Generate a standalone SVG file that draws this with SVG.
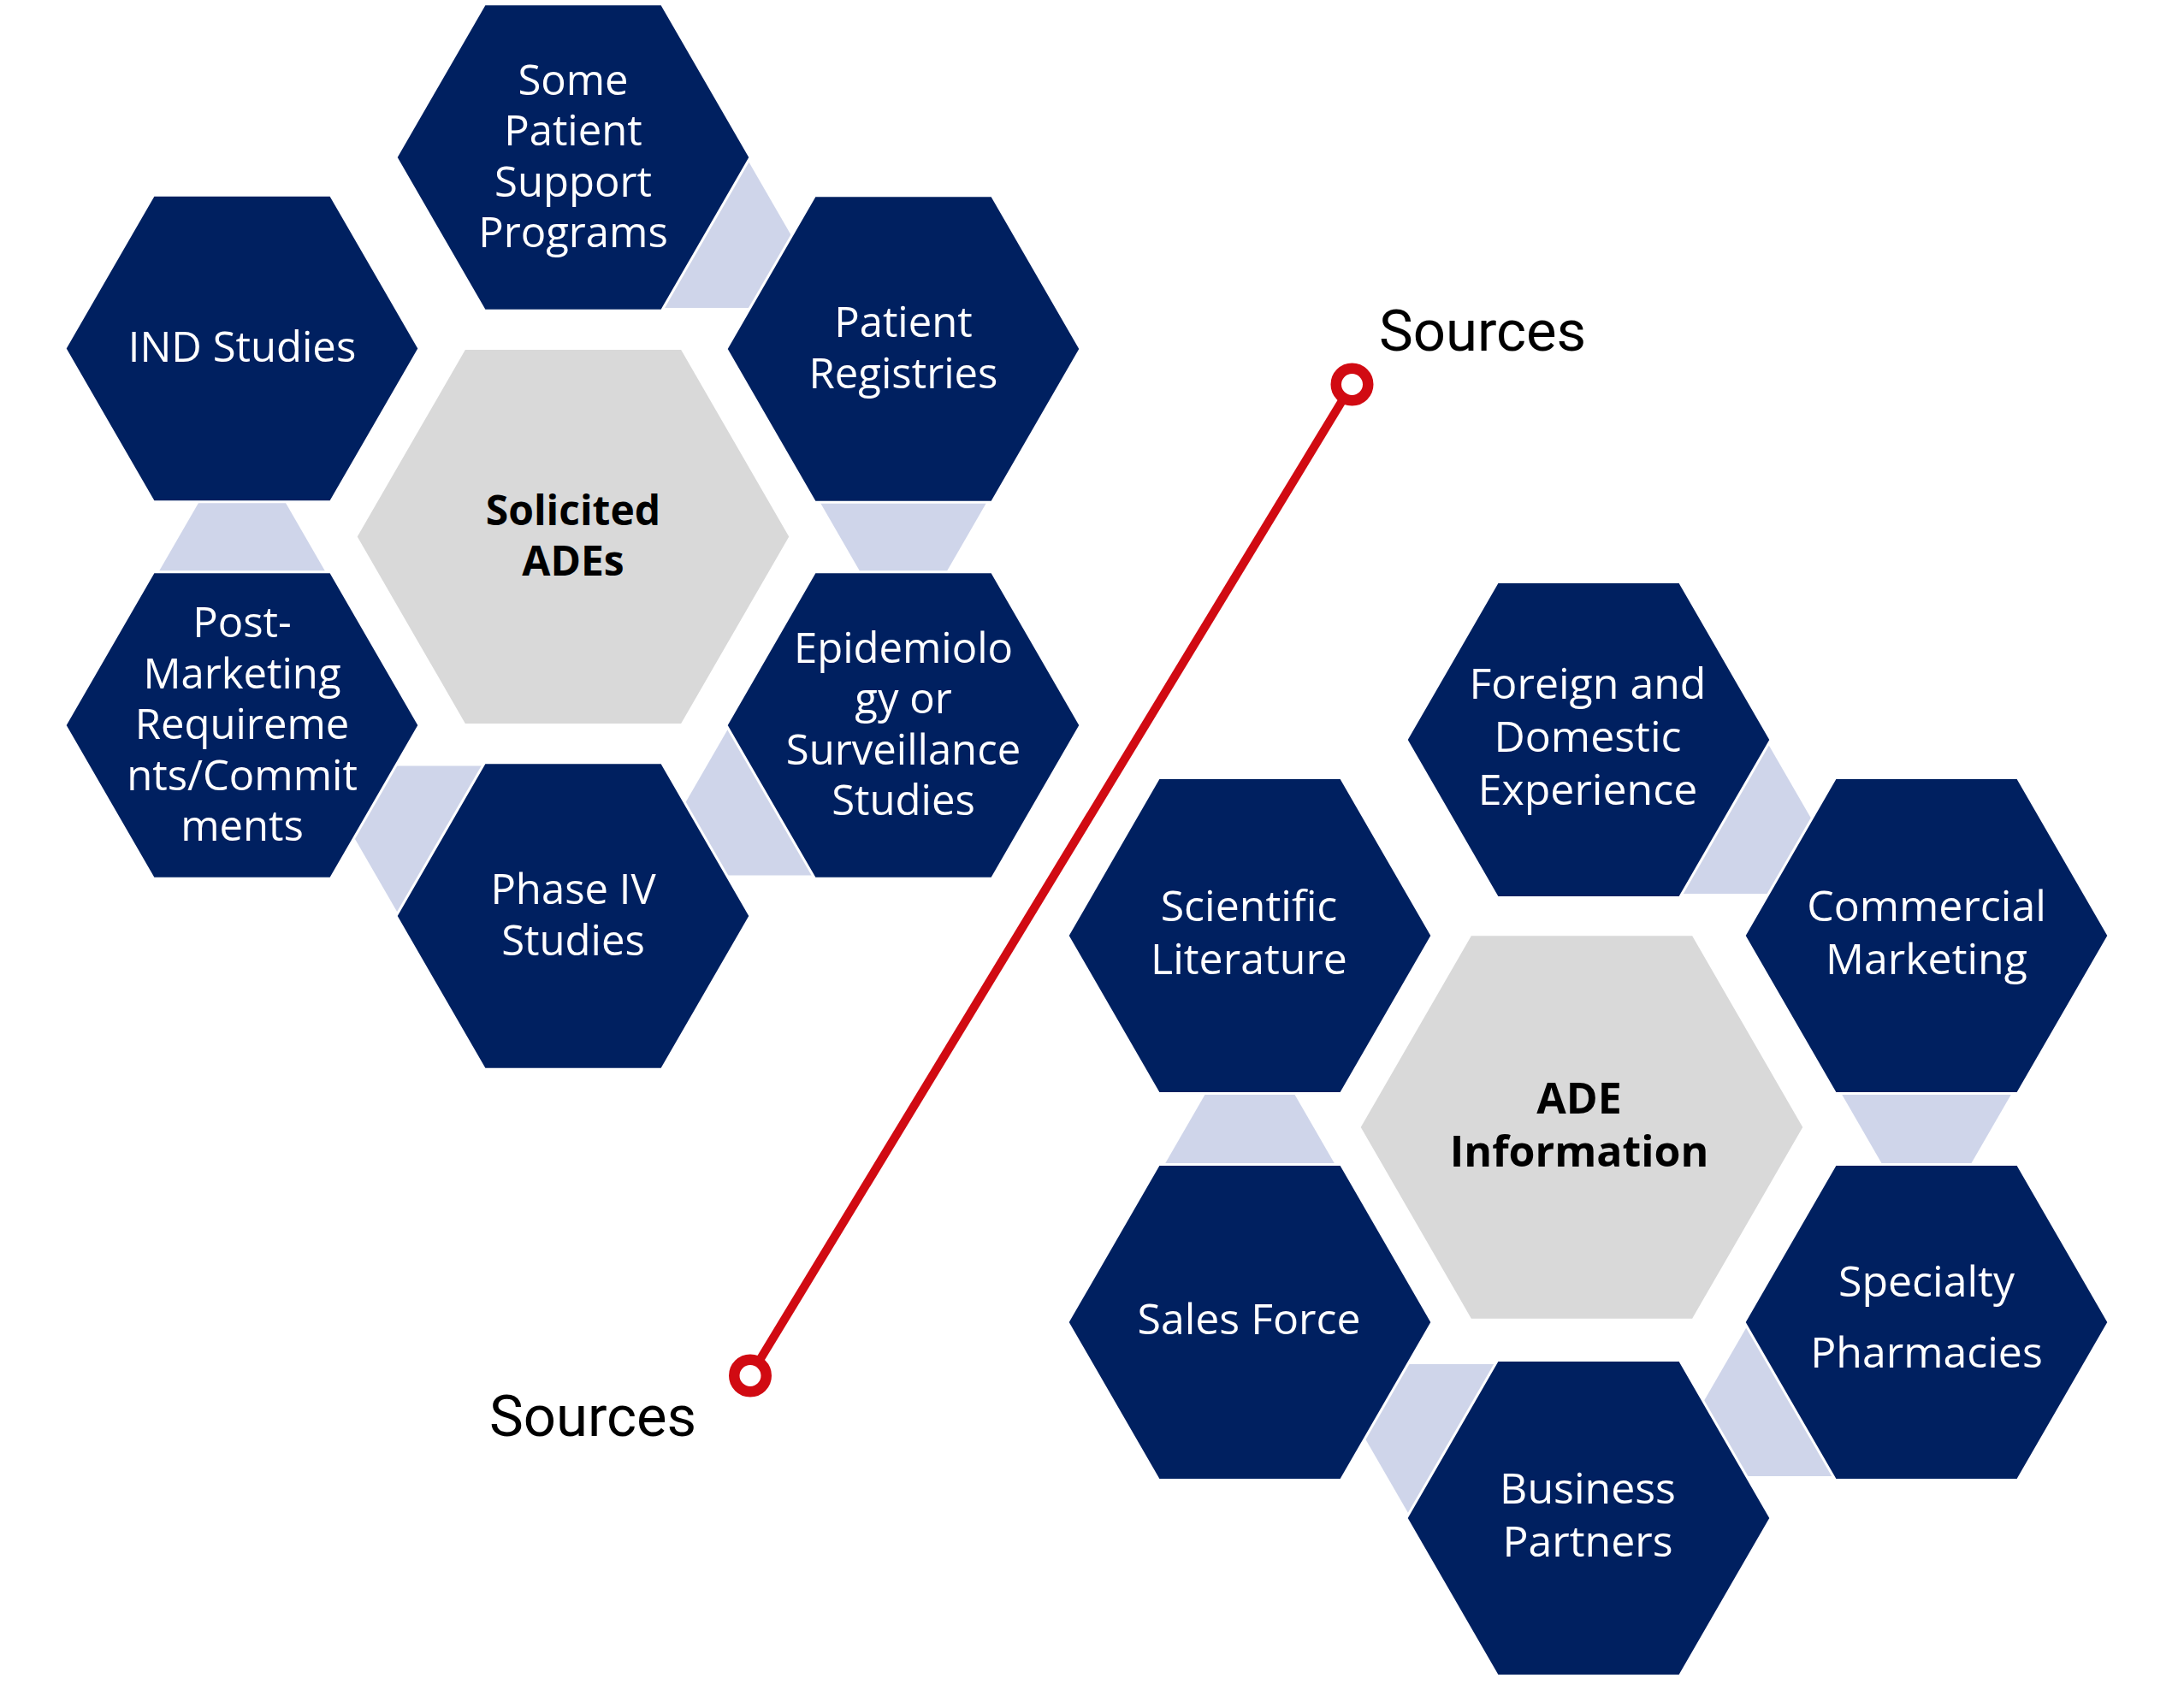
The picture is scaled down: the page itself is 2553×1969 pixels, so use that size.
<svg xmlns="http://www.w3.org/2000/svg" width="2553" height="1969" viewBox="0 0 2553 1969">
<style>
.bg{fill:#FFFFFF}
.hex{fill:#002060;stroke:#FFFFFF;stroke-width:3}
.core{fill:#D9D9D9;stroke:#FFFFFF;stroke-width:3}
.tri{fill:#CFD5EA}
.lbl{font-family:"Open Sans","Noto Sans","DejaVu Sans",sans-serif;font-size:49px;fill:#FFFFFF;text-anchor:middle}
.lbl2{font-family:"Open Sans","Noto Sans","DejaVu Sans",sans-serif;font-size:50px;fill:#FFFFFF;text-anchor:middle}
.clbl{font-family:"Open Sans","Noto Sans","DejaVu Sans",sans-serif;font-size:48px;font-weight:bold;fill:#000000;text-anchor:middle}
.clbl2{font-family:"Open Sans","Noto Sans","DejaVu Sans",sans-serif;font-size:50px;font-weight:bold;fill:#000000;text-anchor:middle}
.src{font-family:Roboto,"Liberation Sans",Arial,sans-serif;font-size:67px;fill:#000000}
.redline{stroke:#D10A12;stroke-width:10;fill:none}
.dot{fill:#FFFFFF;stroke:#D10A12;stroke-width:12.5}
</style>
<rect class="bg" x="0" y="0" width="2553" height="1969"/>

<g id="connectors">
  <polygon class="tri" points="863,168 973.85,360 752.15,360"/>
  <polygon class="tri" points="1056,756 1166.85,564 945.15,564"/>
  <polygon class="tri" points="863,831.5 973.85,1023.5 752.15,1023.5"/>
  <polygon class="tri" points="476.5,1087.5 587.35,895.5 365.65,895.5"/>
  <polygon class="tri" points="283,499.75 393.85,691.75 172.15,691.75"/>
  <polygon class="tri" points="2054.5,848.5 2167.95,1045 1941.05,1045"/>
  <polygon class="tri" points="2252,1451 2365.45,1254.5 2138.55,1254.5"/>
  <polygon class="tri" points="2054.5,1529.5 2167.95,1726 1941.05,1726"/>
  <polygon class="tri" points="1659,1791.5 1772.45,1595 1545.55,1595"/>
  <polygon class="tri" points="1461,1189 1574.45,1385.5 1347.55,1385.5"/>
  <line class="redline" x1="877" y1="1608.5" x2="1580.5" y2="449.5"/>
  <circle class="dot" cx="1580.5" cy="449.5" r="18.75"/>
  <circle class="dot" cx="877" cy="1608.5" r="18.75"/>
</g>

<g id="solicited-ades">
  <polygon class="core" points="416,627.5 543,407.5 797,407.5 924,627.5 797,847.5 543,847.5"/>
  <text class="clbl" x="670" y="613.75">Solicited</text>
  <text class="clbl" x="670" y="673.25">ADEs</text>
</g>
<g id="some-patient-support">
  <polygon class="hex" points="463,184 566.5,4.7 773.5,4.7 877,184 773.5,363.3 566.5,363.3"/>
  <text class="lbl" x="670" y="110.75">Some</text>
  <text class="lbl" x="670" y="170.25">Patient</text>
  <text class="lbl" x="670" y="229.75">Support</text>
  <text class="lbl" x="670" y="289.25">Programs</text>
</g>
<g id="ind-studies">
  <polygon class="hex" points="76,407.5 179.5,228.2 386.5,228.2 490,407.5 386.5,586.8 179.5,586.8"/>
  <text class="lbl" x="283" y="423">IND Studies</text>
</g>
<g id="patient-registries">
  <polygon class="hex" points="849,408 952.5,228.7 1159.5,228.7 1263,408 1159.5,587.3 952.5,587.3"/>
  <text class="lbl" x="1056" y="394.25">Patient</text>
  <text class="lbl" x="1056" y="453.75">Registries</text>
</g>
<g id="post-marketing">
  <polygon class="hex" points="76,848 179.5,668.7 386.5,668.7 490,848 386.5,1027.3 179.5,1027.3"/>
  <text class="lbl" x="283" y="745">Post-</text>
  <text class="lbl" x="283" y="804.5">Marketing</text>
  <text class="lbl" x="283" y="864">Requireme</text>
  <text class="lbl" x="283" y="923.5">nts/Commit</text>
  <text class="lbl" x="283" y="983">ments</text>
</g>
<g id="epidemiology">
  <polygon class="hex" points="849,848 952.5,668.7 1159.5,668.7 1263,848 1159.5,1027.3 952.5,1027.3"/>
  <text class="lbl" x="1056" y="774.75">Epidemiolo</text>
  <text class="lbl" x="1056" y="834.25">gy or</text>
  <text class="lbl" x="1056" y="893.75">Surveillance</text>
  <text class="lbl" x="1056" y="953.25">Studies</text>
</g>
<g id="phase-iv">
  <polygon class="hex" points="463,1071 566.5,891.7 773.5,891.7 877,1071 773.5,1250.3 566.5,1250.3"/>
  <text class="lbl" x="670" y="1057.25">Phase IV</text>
  <text class="lbl" x="670" y="1116.75">Studies</text>
</g>

<g id="ade-information">
  <polygon class="core" points="1589,1318 1719,1092.8 1979,1092.8 2109,1318 1979,1543.2 1719,1543.2"/>
  <text class="clbl2" x="1846" y="1302">ADE</text>
  <text class="clbl2" x="1846" y="1364">Information</text>
</g>
<g id="foreign-domestic">
  <polygon class="hex" points="1644,865 1750.5,680.5 1963.5,680.5 2070,865 1963.5,1049.5 1750.5,1049.5"/>
  <text class="lbl2" x="1856" y="817">Foreign and</text>
  <text class="lbl2" x="1856" y="879">Domestic</text>
  <text class="lbl2" x="1856" y="941">Experience</text>
</g>
<g id="scientific-literature">
  <polygon class="hex" points="1248,1094 1354.5,909.5 1567.5,909.5 1674,1094 1567.5,1278.5 1354.5,1278.5"/>
  <text class="lbl2" x="1460" y="1077">Scientific</text>
  <text class="lbl2" x="1460" y="1139">Literature</text>
</g>
<g id="commercial-marketing">
  <polygon class="hex" points="2039,1094 2145.5,909.5 2358.5,909.5 2465,1094 2358.5,1278.5 2145.5,1278.5"/>
  <text class="lbl2" x="2252" y="1077">Commercial</text>
  <text class="lbl2" x="2252" y="1139">Marketing</text>
</g>
<g id="sales-force">
  <polygon class="hex" points="1248,1546 1354.5,1361.5 1567.5,1361.5 1674,1546 1567.5,1730.5 1354.5,1730.5"/>
  <text class="lbl2" x="1460" y="1560">Sales Force</text>
</g>
<g id="specialty-pharmacies">
  <polygon class="hex" points="2039,1546 2145.5,1361.5 2358.5,1361.5 2465,1546 2358.5,1730.5 2145.5,1730.5"/>
  <text class="lbl2" x="2252" y="1516">Specialty</text>
  <text class="lbl2" x="2252" y="1599">Pharmacies</text>
</g>
<g id="business-partners">
  <polygon class="hex" points="1644,1775 1750.5,1590.5 1963.5,1590.5 2070,1775 1963.5,1959.5 1750.5,1959.5"/>
  <text class="lbl2" x="1856" y="1758">Business</text>
  <text class="lbl2" x="1856" y="1820">Partners</text>
</g>

<g id="labels">
  <text class="src" x="1612" y="410">Sources</text>
  <text class="src" x="572" y="1679">Sources</text>
</g>
</svg>
